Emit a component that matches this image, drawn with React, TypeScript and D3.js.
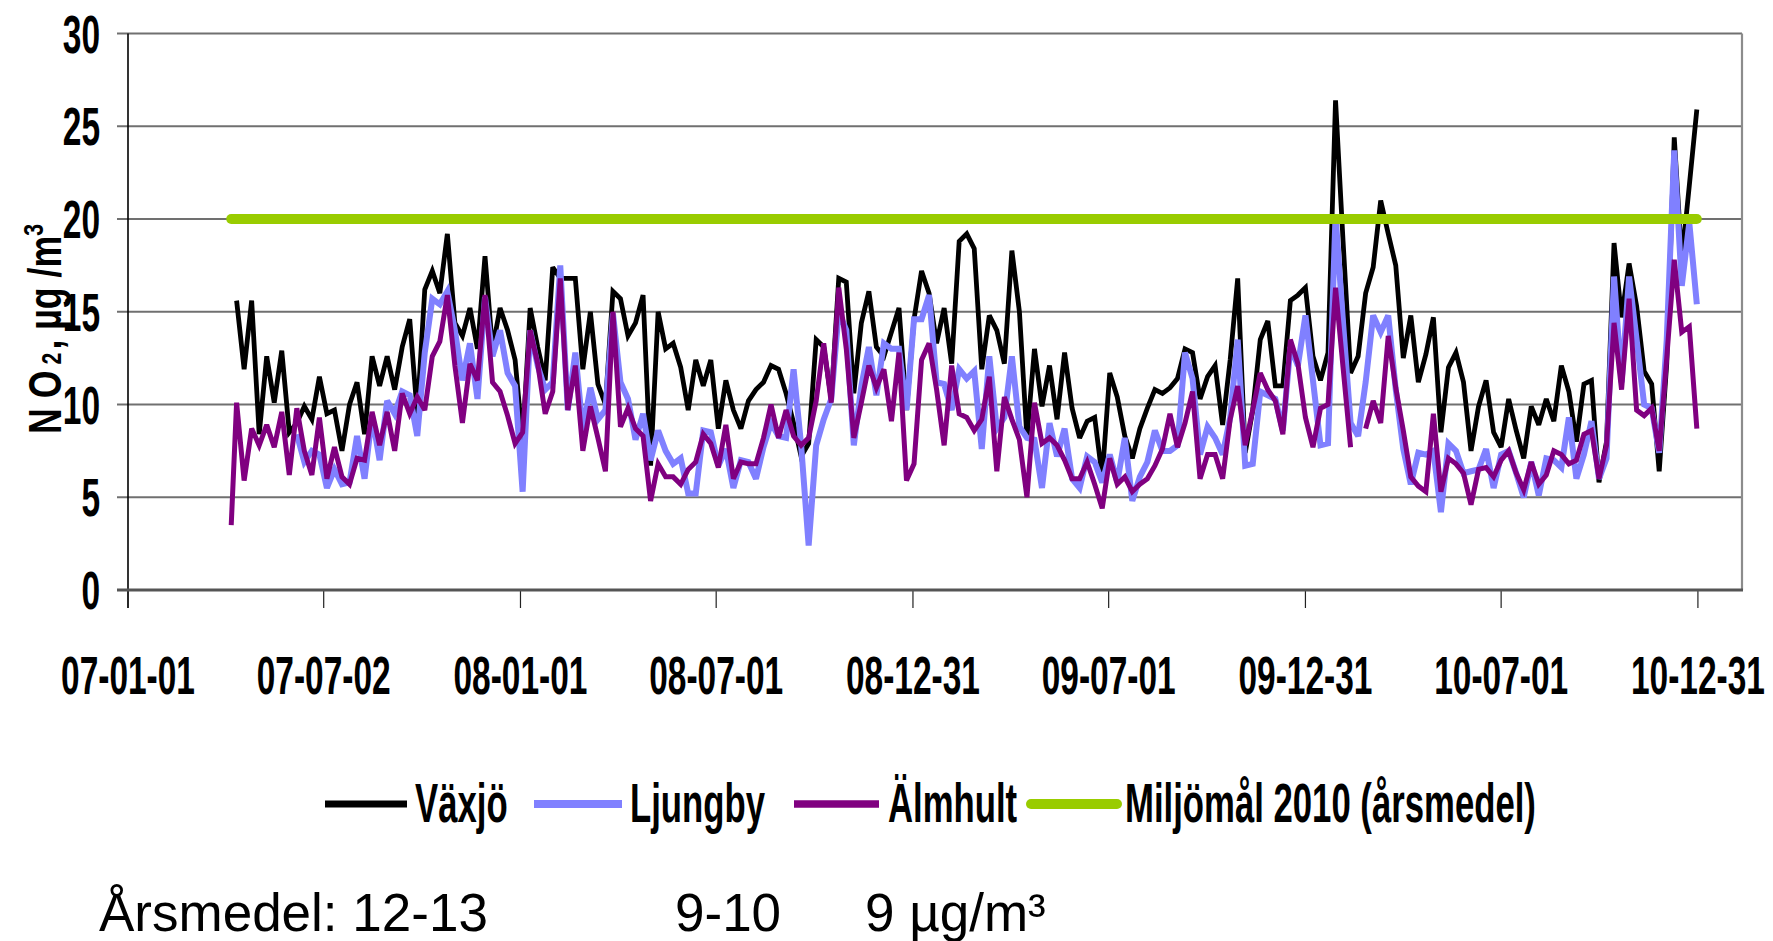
import * as d3 from "d3";

// tick dates on the x axis (Excel style yy-mm-dd labels)
const tickDates = ["2007-01-01", "2007-07-02", "2008-01-01", "2008-07-01", "2008-12-31", "2009-07-01", "2009-12-31", "2010-07-01", "2010-12-31"];
const tickLabels = ["07-01-01", "07-07-02", "08-01-01", "08-07-01", "08-12-31", "09-07-01", "09-12-31", "10-07-01", "10-12-31"];
const yTicks = [0, 5, 10, 15, 20, 25, 30];

// sampling dates: one early Älmhult sample, then weekly from 2007-04-12
const firstSample = "2007-04-07";
const firstWeek = "2007-04-12";
const weekCount = 195;

const vaxjo = [null,
  15.6, 11.9, 15.6, 8.4, 12.6, 10.1, 12.9, 8.5, 9.0, 9.9, 9.2, 11.5, 9.5, 9.7, 7.5, 10.0, 11.2, 8.4, 12.6, 11.0,
  12.6, 10.8, 13.1, 14.6, 9.5, 16.2, 17.2, 16.0, 19.2, 14.4, 13.7, 15.2, 13.0, 18.0, 13.0, 15.2, 14.0, 12.4, 8.0, 15.2,
  13.1, 11.3, 17.4, 16.8, 16.8, 16.8, 11.9, 15.0, 11.1, 10.0, 16.1, 15.7, 13.7, 14.4, 15.9, 6.7, 15.0, 13.0, 13.3, 12.0,
  9.7, 12.4, 11.0, 12.4, 8.7, 11.3, 9.7, 8.7, 10.2, 10.8, 11.2, 12.1, 11.9, 10.6, 9.0, 7.2, 7.9, 13.5, 13.1, 10.3,
  16.8, 16.6, 10.6, 14.4, 16.1, 13.1, 12.6, 13.9, 15.2, 9.7, 14.6, 17.2, 16.0, 13.3, 15.2, 12.2, 18.8, 19.2, 18.4, 11.9,
  14.8, 14.0, 12.2, 18.3, 15.0, 8.2, 13.0, 9.9, 12.1, 9.2, 12.8, 9.8, 8.2, 9.1, 9.3, 6.1, 11.7, 10.4, 8.3, 7.1,
  8.7, 9.8, 10.8, 10.6, 10.9, 11.4, 13.0, 12.8, 10.3, 11.5, 12.1, 8.9, 12.4, 16.8, 7.4, 9.7, 13.5, 14.5, 11.0, 11.0,
  15.6, 15.9, 16.3, 12.6, 11.3, 12.8, 26.4, 18.8, 11.7, 12.6, 16.0, 17.4, 21.0, 19.2, 17.5, 12.5, 14.8, 11.2, 12.7, 14.7,
  8.5, 12.0, 12.8, 11.2, 7.5, 9.9, 11.3, 8.5, 7.7, 10.3, 8.6, 7.1, 9.9, 8.9, 10.3, 9.1, 12.1, 10.7, 8.0, 11.1,
  11.3, 5.8, 8.0, 18.7, 14.7, 17.6, 15.3, 11.8, 11.1, 6.4, 12.2, 24.4, 17.8, 21.8, 25.9];

const ljungby = [null,
  null, null, null, null, null, null, null, null, 8.4, 6.9, 7.5, 7.3, 5.5, 6.5, 5.7, 5.8, 8.3, 6.0, 9.4, 7.0,
  10.2, 9.5, 10.7, 10.5, 8.3, 12.8, 15.7, 15.4, 16.1, 14.0, 11.3, 13.3, 10.3, 15.8, 12.6, 14.0, 11.7, 11.0, 5.3, 14.0,
  12.1, 10.8, 11.2, 17.5, 9.7, 12.8, 8.6, 10.9, 9.2, 9.7, 14.9, 11.2, 10.3, 8.1, 9.5, 7.0, 8.6, 7.5, 6.8, 7.1,
  5.2, 5.2, 8.6, 8.5, 6.7, 7.6, 5.5, 7.0, 6.9, 6.0, 7.7, 9.0, 8.3, 8.2, 11.9, 7.8, 2.4, 7.8, 9.2, 10.3,
  15.0, 14.0, 7.8, 11.0, 13.1, 10.5, 13.3, 13.0, 13.0, 9.7, 14.6, 14.6, 15.9, 11.2, 11.1, 9.7, 11.9, 11.4, 11.8, 7.6,
  12.6, 8.7, 9.3, 12.6, 8.8, 8.2, 8.1, 5.5, 9.0, 7.2, 8.7, 6.0, 5.5, 7.2, 6.9, 5.8, 7.3, 5.8, 8.2, 4.8,
  6.1, 6.9, 8.6, 7.5, 7.5, 7.8, 12.8, 11.4, 7.3, 8.8, 8.2, 7.3, 9.3, 13.5, 6.7, 6.8, 10.7, 10.5, 10.3, 8.6,
  13.1, 12.1, 14.8, 11.3, 7.8, 7.9, 20.2, 14.4, 9.0, 8.3, 11.2, 14.8, 13.9, 14.8, 10.8, 7.6, 5.7, 7.4, 7.3, 7.5,
  4.2, 7.9, 7.5, 6.3, 6.4, 6.5, 7.6, 5.5, 7.3, 7.5, 6.3, 5.0, 6.9, 5.1, 7.1, 7.0, 6.6, 9.3, 6.0, 7.3,
  9.1, 6.0, 7.1, 16.9, 11.2, 16.9, 13.5, 10.0, 9.8, 7.4, 13.5, 23.7, 16.4, 19.8, 15.4];

const almhult = [3.5,
  10.1, 5.9, 8.7, 7.8, 8.9, 7.7, 9.6, 6.2, 9.8, 7.5, 6.2, 9.3, 6.0, 7.7, 6.1, 5.7, 7.1, 7.0, 9.6, 7.8,
  9.6, 7.5, 10.6, 9.5, 10.4, 9.7, 12.6, 13.4, 15.9, 12.1, 9.0, 12.2, 11.3, 15.9, 11.2, 10.7, 9.4, 7.9, 8.5, 14.0,
  12.2, 9.5, 10.7, 16.8, 9.7, 12.1, 7.5, 9.9, 8.2, 6.4, 15.0, 8.8, 9.8, 8.7, 8.3, 4.8, 6.8, 6.1, 6.1, 5.7,
  6.5, 6.9, 8.4, 7.9, 6.6, 8.9, 6.0, 6.9, 6.8, 6.8, 8.2, 10.0, 8.2, 9.7, 8.3, 7.8, 8.2, 10.2, 13.3, 10.1,
  16.3, 13.0, 8.2, 10.1, 12.1, 10.9, 11.9, 9.1, 12.8, 5.9, 6.8, 12.4, 13.3, 10.8, 7.8, 12.1, 9.5, 9.3, 8.6, 9.2,
  11.5, 6.4, 10.4, 9.2, 8.1, 5.0, 10.1, 7.9, 8.2, 7.8, 7.0, 6.0, 6.0, 6.9, 5.7, 4.4, 7.1, 5.7, 6.1, 5.3,
  5.7, 6.0, 6.7, 7.6, 9.5, 7.7, 9.0, 10.7, 6.0, 7.3, 7.3, 6.0, 9.2, 11.0, 7.8, 9.7, 11.7, 10.8, 10.2, 8.4,
  13.5, 12.2, 9.3, 7.7, 9.8, 10.0, 16.3, 12.0, 7.7, null, 8.7, 10.2, 9.0, 13.7, 10.9, 8.6, 6.1, 5.6, 5.3, 9.5,
  5.3, 7.1, 6.8, 6.3, 4.6, 6.5, 6.6, 6.1, 7.0, 7.5, 6.3, 5.4, 6.9, 5.7, 6.2, 7.5, 7.3, 6.8, 7.0, 8.4,
  8.6, 6.0, 7.8, 14.4, 10.8, 15.7, 9.7, 9.4, 9.8, 7.5, 12.5, 17.8, 13.9, 14.2, 8.7];

const targetValue = 20;

const seriesNames = ["Växjö", "Ljungby", "Älmhult", "Miljömål 2010 (årsmedel)"];
const seriesColors = ["#000000", "#8080ff", "#800080", "#99cc00"];

const W = 1773;
const H = 941;
const plot = { left: 128, right: 1742, top: 33.5, bottom: 590 };
const font = "'Liberation Sans', Arial, sans-serif";

// the chart text is a squeezed bold Arial
const axisFont = 54;
const squeeze = 0.62;
const legendSqueeze = 0.62;

const parse = d3.utcParse("%Y-%m-%d");

export default function App() {
  const start = parse(firstWeek) as Date;
  const dates: Date[] = [parse(firstSample) as Date];
  for (let i = 0; i < weekCount; i++) dates.push(d3.utcDay.offset(start, 7 * i));

  const x = d3.scaleUtc()
    .domain([parse("2007-01-01") as Date, parse("2011-02-10") as Date])
    .range([plot.left, plot.right]);
  const y = d3.scaleLinear().domain([0, 30]).range([plot.bottom, plot.top]);

  const line = d3.line<number | null>()
    .defined((d) => d != null)
    .x((_, i) => x(dates[i]))
    .y((d) => y(d as number));

  const targetLine = d3.line<Date>()
    .x((d) => x(d))
    .y(() => y(targetValue));

  const series = [
    { data: vaxjo, width: 4.8 },
    { data: ljungby, width: 6 },
    { data: almhult, width: 5 },
  ];

  // legend layout
  const legend = [
    { x0: 325, x1: 407, tx: 415, sw: 7 },
    { x0: 534, x1: 622, tx: 630, sw: 8 },
    { x0: 794, x1: 879, tx: 888, sw: 7.5 },
    { x0: 1031, x1: 1117, tx: 1125, sw: 10 },
  ];

  return (
    <svg width={W} height={H} style={{ position: "absolute", left: 0, top: 0, background: "#fff" }}>
      <rect width={W} height={H} fill="#fff" />

      {/* gridlines */}
      {yTicks.filter((t) => t > 0).map((t) => (
        <line key={t} x1={plot.left - 11} x2={plot.right} y1={y(t)} y2={y(t)} stroke="#707070" strokeWidth={1.8} />
      ))}
      {/* right border */}
      <line x1={plot.right} x2={plot.right} y1={plot.top} y2={plot.bottom} stroke="#8c8c8c" strokeWidth={2.2} />
      {/* y axis */}
      <line x1={plot.left} x2={plot.left} y1={plot.top} y2={plot.bottom + 18} stroke="#000" strokeWidth={1.6} />
      {/* x ticks */}
      {tickDates.map((d) => (
        <line key={d} x1={x(parse(d) as Date)} x2={x(parse(d) as Date)} y1={plot.bottom} y2={plot.bottom + 18} stroke="#222" strokeWidth={1.2} />
      ))}
      {/* x axis */}
      <line x1={plot.left - 11} x2={plot.right + 1} y1={plot.bottom} y2={plot.bottom} stroke="#555" strokeWidth={3.2} />

      {/* y tick labels */}
      {yTicks.map((t) => (
        <text key={t} transform={`translate(100,${y(t) + 19}) scale(${squeeze},1)`} textAnchor="end"
          fontFamily={font} fontWeight="bold" fontSize={axisFont}>{t}</text>
      ))}
      {/* x tick labels */}
      {tickDates.map((d, i) => (
        <text key={d} transform={`translate(${x(parse(d) as Date)},694) scale(${squeeze},1)`} textAnchor="middle"
          fontFamily={font} fontWeight="bold" fontSize={axisFont}>{tickLabels[i]}</text>
      ))}

      {/* y axis title */}
      <text transform="translate(61,434) rotate(-90) scale(0.76,1)" fontFamily={font} fontWeight="bold" fontSize={47}>
        <tspan>N O</tspan>
        <tspan fontSize={28} dx={8}>2</tspan>
        <tspan dx={4}>, µg /m</tspan>
        <tspan fontSize={28} dy={-18}>3</tspan>
      </text>

      {/* series: Växjö, Ljungby, Älmhult, then target on top */}
      <g fill="none" strokeLinejoin="miter" strokeMiterlimit={3}>
        {series.map((s, i) => (
          <path key={i} d={line(s.data) || ""} stroke={seriesColors[i]} strokeWidth={s.width} />
        ))}
        <path d={targetLine([dates[0], dates[dates.length - 1]]) || ""} stroke={seriesColors[3]} strokeWidth={10} strokeLinecap="round" />
      </g>

      {/* legend */}
      {legend.map((l, i) => (
        <g key={i}>
          <line x1={l.x0} x2={l.x1} y1={804} y2={804} stroke={seriesColors[i]} strokeWidth={l.sw} strokeLinecap={i === 3 ? "round" : "butt"} />
          <text transform={`translate(${l.tx},822) scale(${legendSqueeze},1)`} fontFamily={font} fontWeight="bold" fontSize={56}>{seriesNames[i]}</text>
        </g>
      ))}

      {/* annual means note */}
      <g fontFamily={font} fontSize={53}>
        <text x={99} y={931}>Årsmedel: 12-13</text>
        <text x={675} y={931}>9-10</text>
        <text x={865} y={931}>9 µg/m³</text>
      </g>
    </svg>
  );
}
